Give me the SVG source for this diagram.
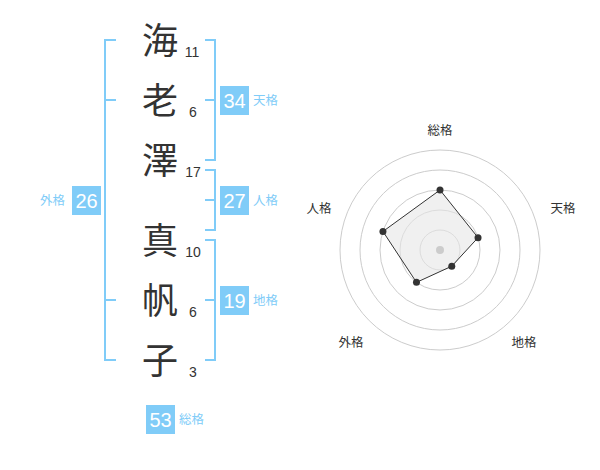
<svg xmlns="http://www.w3.org/2000/svg" width="600" height="470" viewBox="0 0 600 470">
<style>
.kanji{font-family:"Noto Sans CJK JP","Noto Sans CJK SC",sans-serif;font-size:36px;fill:#333;text-anchor:middle}
.num{font-family:"Liberation Sans",Arial,sans-serif;font-size:14px;fill:#333;text-anchor:middle}
.br{fill:none;stroke:#80ccf8;stroke-width:2}
.box{fill:#80ccf8}
.bn{font-family:"Liberation Sans",Arial,sans-serif;font-size:20px;fill:#fff;text-anchor:middle}
.lb{font-family:"Noto Sans CJK JP","Noto Sans CJK SC",sans-serif;font-size:12.5px;fill:#80ccf8}
.rl{font-family:"Noto Sans CJK JP","Noto Sans CJK SC",sans-serif;font-size:12.5px;fill:#333;text-anchor:middle}
.ring{fill:none;stroke:#ccc;stroke-width:1}
</style>
<rect width="600" height="470" fill="#fff"/>
<g id="names">
<text class="kanji" x="160" y="54">海</text>
<text class="kanji" x="160" y="114">老</text>
<text class="kanji" x="160" y="174">澤</text>
<text class="kanji" x="160" y="254">真</text>
<text class="kanji" x="160" y="314">帆</text>
<text class="kanji" x="160" y="374">子</text>
<text class="num" x="192" y="57">11</text>
<text class="num" x="193" y="117">6</text>
<text class="num" x="193" y="177">17</text>
<text class="num" x="193" y="257">10</text>
<text class="num" x="193" y="317">6</text>
<text class="num" x="193" y="377">3</text>
</g>
<g id="connectors">
<path class="br" d="M116,40 H105 V360 H116 M105,100 H116 M105,300 H116"/>
<path class="br" d="M205,40 H215 V160 H205 M205,100 H215"/>
<path class="br" d="M205,170 H215 V230 H205 M205,200 H215"/>
<path class="br" d="M205,240 H215 V360 H205 M205,300 H215"/>
</g>
<g id="tenkaku">
<rect class="box" x="220" y="86" width="29" height="29"/>
<text class="bn" x="234.5" y="108">34</text>
<text class="lb" x="253" y="105">天格</text>
</g>
<g id="jinkaku">
<rect class="box" x="220" y="186" width="29" height="29"/>
<text class="bn" x="234.5" y="208">27</text>
<text class="lb" x="253" y="205">人格</text>
</g>
<g id="chikaku">
<rect class="box" x="220" y="286" width="29" height="29"/>
<text class="bn" x="234.5" y="308">19</text>
<text class="lb" x="253" y="305">地格</text>
</g>
<g id="gaikaku">
<rect class="box" x="72" y="186" width="29" height="29"/>
<text class="bn" x="86.5" y="208">26</text>
<text class="lb" x="40" y="205">外格</text>
</g>
<g id="soukaku">
<rect class="box" x="146" y="405" width="29" height="29"/>
<text class="bn" x="160.5" y="427">53</text>
<text class="lb" x="179" y="424">総格</text>
</g>
<g id="radar">
<circle class="ring" cx="440" cy="250" r="20"/>
<circle class="ring" cx="440" cy="250" r="40"/>
<circle class="ring" cx="440" cy="250" r="60"/>
<circle class="ring" cx="440" cy="250" r="80"/>
<circle class="ring" cx="440" cy="250" r="100"/>
<polygon points="440,190 478.04,237.64 451.76,266.18 416.49,282.36 382.94,231.46" fill="#e6e6e6" fill-opacity="0.6" stroke="#333" stroke-width="1"/>
<circle cx="440" cy="250" r="4" fill="#ccc"/>
<g fill="#333">
<circle cx="440" cy="190" r="3.5"/>
<circle cx="478.04" cy="237.64" r="3.5"/>
<circle cx="451.76" cy="266.18" r="3.5"/>
<circle cx="416.49" cy="282.36" r="3.5"/>
<circle cx="382.94" cy="231.46" r="3.5"/>
</g>
<text class="rl" x="440" y="135">総格</text>
<text class="rl" x="563" y="213">天格</text>
<text class="rl" x="524" y="347">地格</text>
<text class="rl" x="351" y="347">外格</text>
<text class="rl" x="319" y="213">人格</text>
</g>
</svg>
